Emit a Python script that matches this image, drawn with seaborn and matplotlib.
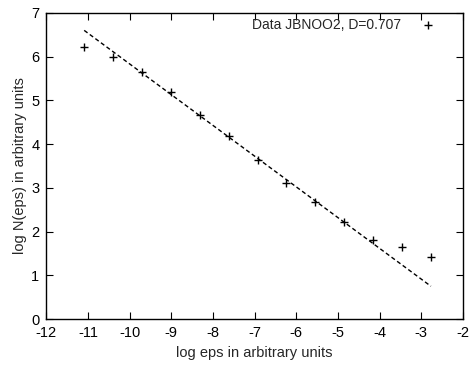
import matplotlib
matplotlib.use("Agg")
import matplotlib.pyplot as plt
import seaborn as sns
import pandas as pd

# data (log eps vs log N(eps))
log_eps = [-11.09, -10.40, -9.70, -9.01, -8.32, -7.62, -6.93,
           -6.24, -5.55, -4.85, -4.16, -3.47, -2.77]
log_n = [6.21, 5.98, 5.64, 5.19, 4.67, 4.19, 3.64,
         3.12, 2.67, 2.22, 1.81, 1.65, 1.42]

# fitted line end points, D=0.707
fit_x = [-11.09, -2.77]
fit_y = [6.60, 0.75]

legend_label = "Data JBNOO2, D=0.707"

sns.set_style("ticks")
plt.rcParams["font.family"] = ["Liberation Sans", "DejaVu Sans"]
plt.rcParams["axes.unicode_minus"] = False

df = pd.DataFrame({"x": log_eps, "y": log_n})
fit = pd.DataFrame({"x": fit_x, "y": fit_y})

fig = plt.figure(figsize=(4.72, 3.68), dpi=100)
ax = fig.add_axes([0.098, 0.133, 0.883, 0.832])

sns.lineplot(data=fit, x="x", y="y", ax=ax, color="black", lw=1.0,
             linestyle=(0, (3, 2)))
sns.scatterplot(data=df, x="x", y="y", ax=ax, marker="+", color="black",
                s=30, linewidth=1.0, label=legend_label)

ax.set_xlim(-12, -2)
ax.set_ylim(0, 7)
ax.set_xticks(range(-12, -1))
ax.set_yticks(range(0, 8))
ax.tick_params(direction="in", top=True, right=True, length=5, width=0.8,
               labelsize=10.5, colors="black", pad=5)
for sp in ax.spines.values():
    sp.set_linewidth(1.0)
    sp.set_color("black")

ax.set_xlabel("log eps in arbitrary units", fontsize=10.5, labelpad=4)
ax.set_ylabel("log N(eps) in arbitrary units", fontsize=10.5, labelpad=3)

ax.legend(loc="upper right", frameon=False, markerfirst=False, fontsize=10,
          handletextpad=1.2, handlelength=1.5, borderaxespad=0.0,
          bbox_to_anchor=(0.955, 1.002))

fig.savefig("out.png", dpi=100)
